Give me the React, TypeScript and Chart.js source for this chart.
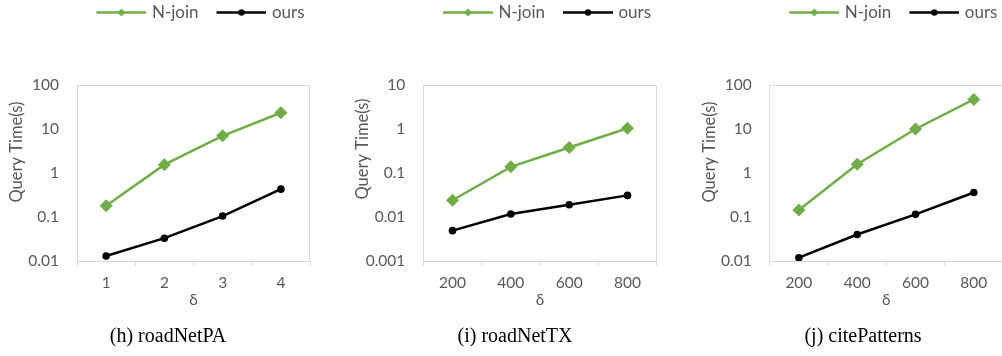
import React, { useEffect, useRef } from "react";
import { Chart, registerables } from "chart.js";

Chart.register(...registerables);

// ---- data ----
const deltaSmall = ["1", "2", "3", "4"];
const deltaLarge = ["200", "400", "600", "800"];

const njoinPA = [0.18, 1.55, 7.0, 23.4];
const oursPA = [0.013, 0.033, 0.105, 0.43];

const njoinTX = [0.024, 0.138, 0.38, 1.04];
const oursTX = [0.0049, 0.0117, 0.019, 0.031];

const njoinCP = [0.145, 1.58, 10, 47];
const oursCP = [0.0119, 0.04, 0.115, 0.36];

const ticksHigh = [0.01, 0.1, 1, 10, 100];
const ticksLow = [0.001, 0.01, 0.1, 1, 10];

const seriesNames = ["N-join", "ours"];
const captions = ["(h) roadNetPA", "(i) roadNetTX", "(j) citePatterns"];
const yTitle = "Query Time(s)";
const xTitle = "δ";

// ---- styles ----
const GREEN = "#70AD47";
const BLACK = "#000000";
const TEXT = "#595959";
const FRAME = "#D9D9D9";
const FONT = "Lato";
const FS_TICK = 15.5;
const FS_LEGEND = 17;
const FS_TITLE = 16.5;

type PanelCfg = {
  left: number;
  width: number;
  yWidth: number;
  rightWidth: number;
  titleX: number;
  titleY: number;
  labels: string[];
  a: number[];
  b: number[];
  yTicks: number[];
  caption: string;
};

const panels: PanelCfg[] = [
  { left: 0, width: 336, yWidth: 77, rightWidth: 26, titleX: 17, titleY: 152, labels: deltaSmall, a: njoinPA, b: oursPA, yTicks: ticksHigh, caption: captions[0] },
  { left: 334, width: 362, yWidth: 89.3, rightWidth: 39.3, titleX: 29, titleY: 149, labels: deltaLarge, a: njoinTX, b: oursTX, yTicks: ticksLow, caption: captions[1] },
  { left: 668, width: 390, yWidth: 101.7, rightWidth: 55, titleX: 42, titleY: 152, labels: deltaLarge, a: njoinCP, b: oursCP, yTicks: ticksHigh, caption: captions[2] },
];

function legendImage(color: string, marker: "diamond" | "circle") {
  const c = document.createElement("canvas");
  c.width = 67;
  c.height = 17;
  const ctx = c.getContext("2d")!;
  const cy = 8.5;
  ctx.strokeStyle = color;
  ctx.fillStyle = color;
  ctx.lineWidth = 2.5;
  ctx.beginPath();
  ctx.moveTo(17, cy);
  ctx.lineTo(67, cy);
  ctx.stroke();
  ctx.beginPath();
  if (marker === "diamond") {
    const r = 4;
    ctx.moveTo(42, cy - r);
    ctx.lineTo(42 + r, cy);
    ctx.lineTo(42, cy + r);
    ctx.lineTo(42 - r, cy);
    ctx.closePath();
  } else {
    ctx.arc(42, cy, 3.2, 0, Math.PI * 2);
  }
  ctx.fill();
  return c;
}

function Panel({ cfg }: { cfg: PanelCfg }) {
  const ref = useRef<HTMLCanvasElement | null>(null);
  useEffect(() => {
    const canvas = ref.current!;
    const imgs = [legendImage(GREEN, "diamond"), legendImage(BLACK, "circle")];
    const legendHeightPlugin = {
      id: "legendHeight",
      beforeInit(chart: any) {
        const orig = chart.legend.fit;
        chart.legend.fit = function () {
          orig.bind(chart.legend)();
          this.height = 85;
        };
      },
    };
    const framePlugin = {
      id: "frame",
      beforeDatasetsDraw(chart: any) {
        const { ctx, chartArea } = chart;
        ctx.save();
        ctx.strokeStyle = FRAME;
        ctx.lineWidth = 1;
        ctx.beginPath();
        const t = Math.round(chartArea.top) + 0.5;
        const r = Math.round(chartArea.right) - 0.5;
        ctx.moveTo(chartArea.left, t);
        ctx.lineTo(r, t);
        ctx.lineTo(r, chartArea.bottom);
        ctx.stroke();
        ctx.restore();
      },
    };
    const yTitlePlugin = {
      id: "yTitleText",
      afterDraw(chart: any) {
        const { ctx } = chart;
        ctx.save();
        ctx.translate(cfg.titleX, cfg.titleY);
        ctx.rotate(-Math.PI / 2);
        ctx.font = `${FS_TITLE}px ${FONT}`;
        ctx.fillStyle = TEXT;
        ctx.textAlign = "center";
        ctx.textBaseline = "middle";
        ctx.fillText(yTitle, 0, 0);
        ctx.restore();
      },
    };
    const chart = new Chart(canvas, {
      type: "line",
      data: {
        labels: cfg.labels,
        datasets: [
          {
            label: seriesNames[0],
            data: cfg.a,
            borderColor: GREEN,
            backgroundColor: GREEN,
            borderWidth: 2.5,
            pointStyle: "rectRot",
            pointRadius: 6.5,
            pointBorderWidth: 0,
            pointBackgroundColor: GREEN,
            tension: 0,
          },
          {
            label: seriesNames[1],
            data: cfg.b,
            borderColor: BLACK,
            backgroundColor: BLACK,
            borderWidth: 2.5,
            pointStyle: "circle",
            pointRadius: 3.8,
            pointBorderWidth: 0,
            pointBackgroundColor: BLACK,
            tension: 0,
          },
        ],
      },
      options: {
        responsive: false,
        animation: false,
        layout: { padding: 0 },
        events: [],
        scales: {
          x: {
            type: "category",
            offset: true,
            grid: { display: true, offset: true, drawOnChartArea: false, drawTicks: true, tickLength: 5, color: FRAME },
            border: { display: true, color: FRAME },
            ticks: { color: TEXT, font: { family: FONT, size: FS_TICK }, padding: 8, maxRotation: 0 },
            title: { display: true, text: xTitle, color: TEXT, font: { family: FONT, size: FS_TICK }, padding: { top: 0, bottom: 7.5 } },
            afterFit(s: any) {
              s.height = 55.5;
            },
          },
          y: {
            type: "logarithmic",
            position: "left",
            min: cfg.yTicks[0],
            max: cfg.yTicks[cfg.yTicks.length - 1],
            afterBuildTicks(s: any) {
              s.ticks = cfg.yTicks.map((v) => ({ value: v }));
            },
            ticks: { color: TEXT, font: { family: FONT, size: FS_TICK }, padding: 18, callback: (v: any) => String(v) },
            grid: { display: false, drawTicks: false },
            border: { display: true, color: FRAME },
            afterFit(s: any) {
              s.width = cfg.yWidth;
            },
          },
          y2: {
            type: "linear",
            position: "right",
            display: true,
            ticks: { display: false },
            grid: { display: false, drawTicks: false },
            border: { display: false },
            afterFit(s: any) {
              s.width = cfg.rightWidth;
            },
          },
        },
        plugins: {
          tooltip: { enabled: false },
          legend: {
            display: true,
            position: "top",
            fullSize: false,
            align: "center",
            labels: {
              usePointStyle: true,
              pointStyleWidth: 61,
              boxHeight: FS_LEGEND,
              padding: 4,
              color: TEXT,
              font: { family: FONT, size: FS_LEGEND },
              generateLabels: (ch: any) =>
                ch.data.datasets.map((ds: any, i: number) => ({
                  text: ds.label,
                  pointStyle: imgs[i],
                  fillStyle: ds.borderColor,
                  strokeStyle: ds.borderColor,
                  lineWidth: 0,
                  hidden: false,
                  datasetIndex: i,
                  fontColor: TEXT,
                })),
            },
          },
          title: {
            display: true,
            position: "bottom",
            text: cfg.caption,
            color: "#000",
            font: { family: "Liberation Serif", size: 20, weight: "normal" },
            padding: { top: 8, bottom: 7.5 },
          },
        },
      } as any,
      plugins: [legendHeightPlugin, framePlugin, yTitlePlugin],
    });
    return () => chart.destroy();
  }, [cfg]);
  return (
    <div style={{ position: "absolute", left: cfg.left, top: 0, width: cfg.width, height: 356 }}>
      <canvas ref={ref} width={cfg.width} height={356} style={{ display: "block" }} />
    </div>
  );
}

export default function App() {
  return (
    <div style={{ position: "absolute", left: 0, top: 0, width: 1002, height: 356, overflow: "hidden", background: "#fff" }}>
      {panels.map((p, i) => (
        <Panel key={i} cfg={p} />
      ))}
    </div>
  );
}
